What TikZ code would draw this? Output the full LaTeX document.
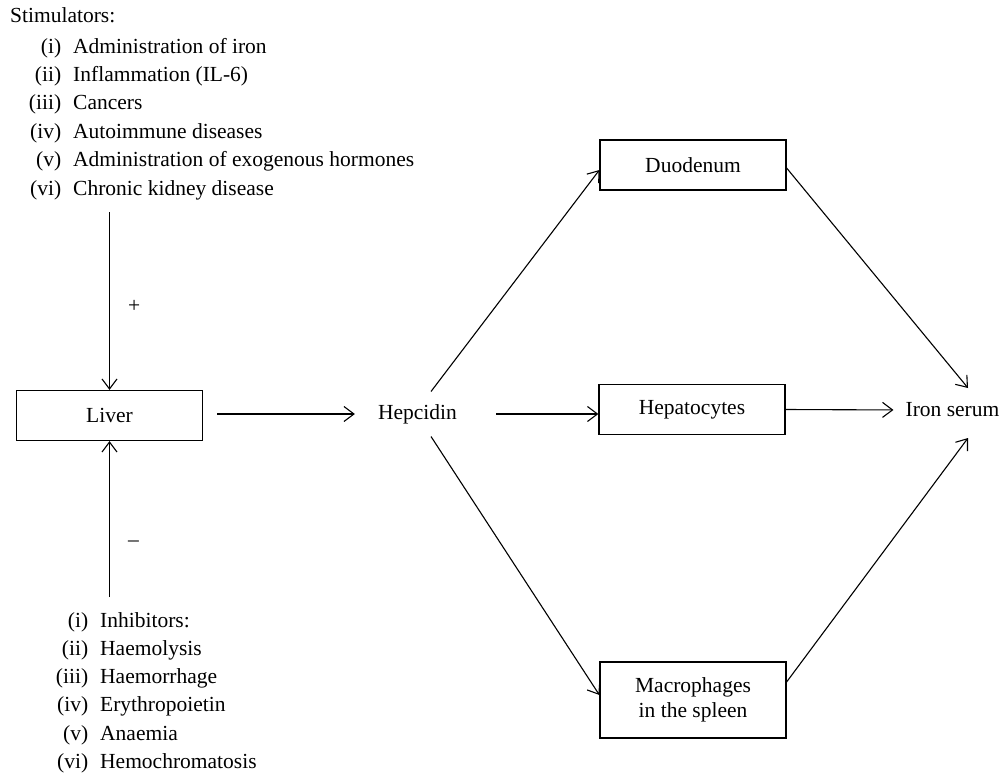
\documentclass[tikz,border=0pt]{standalone}
\usepackage{fontspec}
\setmainfont{Liberation Serif}
\usetikzlibrary{arrows.meta}

\begin{document}
\begin{tikzpicture}[x=1pt, y=-1pt,
    font=\fontsize{21.5}{28.4}\selectfont,
    box/.style = {draw, line width=1.2pt, minimum width=186pt, minimum height=50pt, inner sep=0pt},
    word/.style = {inner sep=0pt},
    item/.style = {anchor=base west, inner sep=0pt},
    sign/.style = {right=18pt, inner sep=0pt},
    arr/.style = {-{Straight Barb[length=10pt, width=15pt]}, line width=1.1pt}]
  \useasboundingbox (0,0) rectangle (1006,776);
  \node[item] (stim) at (10,23) {Stimulators:};
  \foreach \num/\txt [count=\k from 0] in {{(i)}/Administration of iron, {(ii)}/Inflammation (IL-6),
      {(iii)}/Cancers, {(iv)}/Autoimmune diseases, {(v)}/Administration of exogenous hormones,
      {(vi)}/Chronic kidney disease}
    \node[item] (s\k) at (73,{53+28.4*\k}) {\llap{\num\hspace{12pt}}\txt};
  \foreach \num/\txt [count=\k from 0] in {{(i)}/Inhibitors:, {(ii)}/Haemolysis, {(iii)}/Haemorrhage,
      {(iv)}/Erythropoietin, {(v)}/Anaemia, {(vi)}/Hemochromatosis}
    \node[item] (n\k) at (100,{627+28.3*\k}) {\llap{\num\hspace{12pt}}\txt};
  \node[box] (liver) at (109.5,415.5) {Liver};
  \node[word] (hep) at (417.5,414) {Hepcidin};
  \node[box] (duo) at (693,165) {Duodenum};
  \node[box] (hepa) at (692,409.5) {Hepatocytes};
  \node[box, minimum height=76pt, align=center, font=\fontsize{21.5}{25.6}\selectfont] (mac) at (693,700) {Macrophages\\in the spleen};
  \node[word] (iron) at (952.5,410) {Iron serum};
  \coordinate (stimend) at (109.5,212);
  \coordinate (inhend) at (109.5,597);
  \draw[arr] (stimend) -- node[sign, pos=0.53] (plus) {+} (liver.north);
  \draw[arr] (inhend) -- node[sign, pos=0.34] (minus) {--} (liver.south);
  \draw[arr, shorten <=14pt, shorten >=23pt] (liver.east |- hep) -- (hep.west);
  \draw[arr, shorten <=39pt] (hep.east) -- (hepa.west |- hep.east);
  \draw[arr, shorten >=12pt] (hepa.east) -- (iron.west);
  \draw[arr] ([xshift=13.5pt,yshift=22.5pt]hep.center) -- ([yshift=-5pt]duo.west);
  \draw[arr] ([xshift=13.5pt,yshift=-22.5pt]hep.center) -- ([yshift=5pt]mac.west);
  \draw[arr] ([yshift=-3pt]duo.east) -- ([xshift=15.5pt,yshift=22pt]iron.center);
  \draw[arr] ([yshift=18pt]mac.east) -- ([xshift=15.5pt,yshift=-28pt]iron.center);
\end{tikzpicture}
\end{document}
